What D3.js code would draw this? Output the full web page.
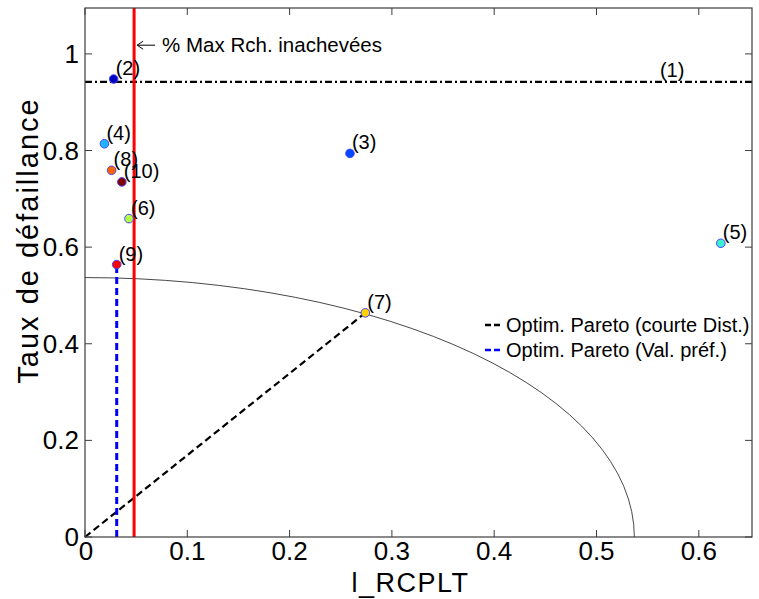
<!DOCTYPE html>
<html>
<head>
<meta charset="utf-8">
<script src="https://cdn.jsdelivr.net/npm/d3@7"></script>
<style>
  html, body { margin: 0; padding: 0; background: #fff; }
  svg { display: block; font-family: "Liberation Sans", Arial, sans-serif; }
</style>
</head>
<body>
<svg id="chart" width="759" height="599"></svg>
<script>
// ---- data ----
const pointLabels = ["(2)", "(3)", "(4)", "(5)", "(6)", "(7)", "(8)", "(9)", "(10)"];
const xValues = [0.028, 0.259, 0.019, 0.6215, 0.043, 0.274, 0.026, 0.031, 0.036];
const yValues = [0.948, 0.794, 0.814, 0.608, 0.659, 0.464, 0.759, 0.564, 0.735];
const pointColors = ["#0000c0", "#0048ff", "#1eb4ff", "#3cf0d2", "#b4ff46", "#ffd200", "#ff6400", "#ff0000", "#800000"];
const xTicks = [0, 0.1, 0.2, 0.3, 0.4, 0.5, 0.6];
const yTicks = [0, 0.2, 0.4, 0.6, 0.8, 1];
const xDomain = [0, 0.652];
const yDomain = [0, 1.095];
const refLevel = 0.942;        // horizontal line (1)
const refLabel = "(1)";
const refLabelX = 0.562;
const maxUnfinished = 0.048;   // red vertical line
const paretoRadius = 0.537;    // quarter circle
const bestShortIdx = 5;        // (7)
const bestPrefIdx = 7;         // (9)
const legendItems = [
  { label: "Optim. Pareto (courte Dist.)", color: "#000000" },
  { label: "Optim. Pareto (Val. préf.)", color: "#0000ff" }
];
const annotationText = "% Max Rch. inachevées";
const annotationY = 1.018;

// ---- layout ----
const svg = d3.select("#chart");
const L = 85, R = 752, T = 8, B = 537;
const x = d3.scaleLinear().domain(xDomain).range([L, R]);
const y = d3.scaleLinear().domain(yDomain).range([B, T]);

// quarter circle (ellipse in pixel space)
const r = paretoRadius;
svg.append("path")
  .attr("d", `M${x(0)},${y(r)} A${x(r) - x(0)},${y(0) - y(r)} 0 0 1 ${x(r)},${y(0)}`)
  .attr("fill", "none").attr("stroke", "#333").attr("stroke-width", 0.9);

// horizontal dash-dot line
svg.append("line")
  .attr("x1", x(xDomain[0])).attr("x2", x(xDomain[1]))
  .attr("y1", y(refLevel)).attr("y2", y(refLevel))
  .attr("stroke", "#000").attr("stroke-width", 2.2)
  .attr("stroke-dasharray", "7,3,2,3");

// black dashed line to (7)
svg.append("line")
  .attr("x1", x(0)).attr("y1", y(0))
  .attr("x2", x(xValues[bestShortIdx])).attr("y2", y(yValues[bestShortIdx]))
  .attr("stroke", "#000").attr("stroke-width", 2.2)
  .attr("stroke-dasharray", "7,4");

// blue dashed vertical to (9)
svg.append("line")
  .attr("x1", x(xValues[bestPrefIdx])).attr("y1", y(0))
  .attr("x2", x(xValues[bestPrefIdx])).attr("y2", y(yValues[bestPrefIdx]))
  .attr("stroke", "#0000ff").attr("stroke-width", 3)
  .attr("stroke-dasharray", "7,4");

// red vertical line
svg.append("line")
  .attr("x1", x(maxUnfinished)).attr("x2", x(maxUnfinished))
  .attr("y1", y(yDomain[0])).attr("y2", y(yDomain[1]))
  .attr("stroke", "#ff0000").attr("stroke-width", 3);

// axes box
const axisColor = "#3c3c3c";
svg.append("rect")
  .attr("x", L).attr("y", T).attr("width", R - L).attr("height", B - T)
  .attr("fill", "none").attr("stroke", axisColor).attr("stroke-width", 1.2);

// ticks (inward, mirrored)
const tl = 7;
xTicks.forEach(v => {
  svg.append("line").attr("x1", x(v)).attr("x2", x(v)).attr("y1", B).attr("y2", B - tl).attr("stroke", axisColor);
  svg.append("line").attr("x1", x(v)).attr("x2", x(v)).attr("y1", T).attr("y2", T + tl).attr("stroke", axisColor);
  svg.append("text").attr("x", x(v) + (v === 0 ? 1 : 0)).attr("y", B + 23)
    .attr("text-anchor", "middle").attr("font-size", 26).attr("fill", "#000")
    .text(d3.format("")(v));
});
yTicks.forEach(v => {
  svg.append("line").attr("x1", L).attr("x2", L + tl).attr("y1", y(v)).attr("y2", y(v)).attr("stroke", axisColor);
  svg.append("line").attr("x1", R).attr("x2", R - tl).attr("y1", y(v)).attr("y2", y(v)).attr("stroke", axisColor);
  svg.append("text").attr("x", L - 6).attr("y", y(v) + 9)
    .attr("text-anchor", "end").attr("font-size", 26).attr("fill", "#000")
    .text(d3.format("")(v));
});

// axis labels
svg.append("text").attr("x", (L + R) / 2 - 8).attr("y", 592)
  .attr("text-anchor", "middle").attr("font-size", 27).attr("letter-spacing", 1.5).text("l_RCPLT");
svg.append("text")
  .attr("transform", `translate(38,${(T + B) / 2 - 32}) rotate(-90)`)
  .attr("text-anchor", "middle").attr("font-size", 29).attr("letter-spacing", 2)
  .text("Taux de défaillance");

// points
const pts = pointLabels.map((lab, i) => ({ lab, x: xValues[i], y: yValues[i], c: pointColors[i] }));
svg.selectAll("circle.pt").data(pts).enter().append("circle")
  .attr("class", "pt")
  .attr("cx", d => x(d.x)).attr("cy", d => y(d.y)).attr("r", 4.3)
  .attr("fill", d => d.c).attr("stroke", "#4646ff").attr("stroke-width", 1);
svg.selectAll("text.pl").data(pts).enter().append("text")
  .attr("class", "pl")
  .attr("x", d => x(d.x) + 2).attr("y", d => y(d.y) - 4)
  .attr("font-size", 20).text(d => d.lab);

// (1) label
svg.append("text").attr("x", x(refLabelX)).attr("y", y(refLevel) - 5)
  .attr("font-size", 20).text(refLabel);

// annotation arrow
const ay = y(annotationY);
const ax0 = x(maxUnfinished) + 3, ax1 = ax0 + 18;
svg.append("line").attr("x1", ax0).attr("x2", ax1).attr("y1", ay).attr("y2", ay).attr("stroke", "#000").attr("stroke-width", 1);
svg.append("path").attr("d", `M${ax0 + 6},${ay - 4} L${ax0},${ay} L${ax0 + 6},${ay + 4}`)
  .attr("fill", "none").attr("stroke", "#000").attr("stroke-width", 1);
svg.append("text").attr("x", ax1 + 7).attr("y", ay + 7)
  .attr("font-size", 20.5).text(annotationText);

// legend
legendItems.forEach((it, i) => {
  const ly = 325 + i * 25;
  svg.append("line").attr("x1", 485).attr("x2", 501).attr("y1", ly).attr("y2", ly)
    .attr("stroke", it.color).attr("stroke-width", 2.5).attr("stroke-dasharray", "6,3");
  svg.append("text").attr("x", 506).attr("y", ly + 7).attr("font-size", 20).text(it.label);
});
</script>
</body>
</html>
